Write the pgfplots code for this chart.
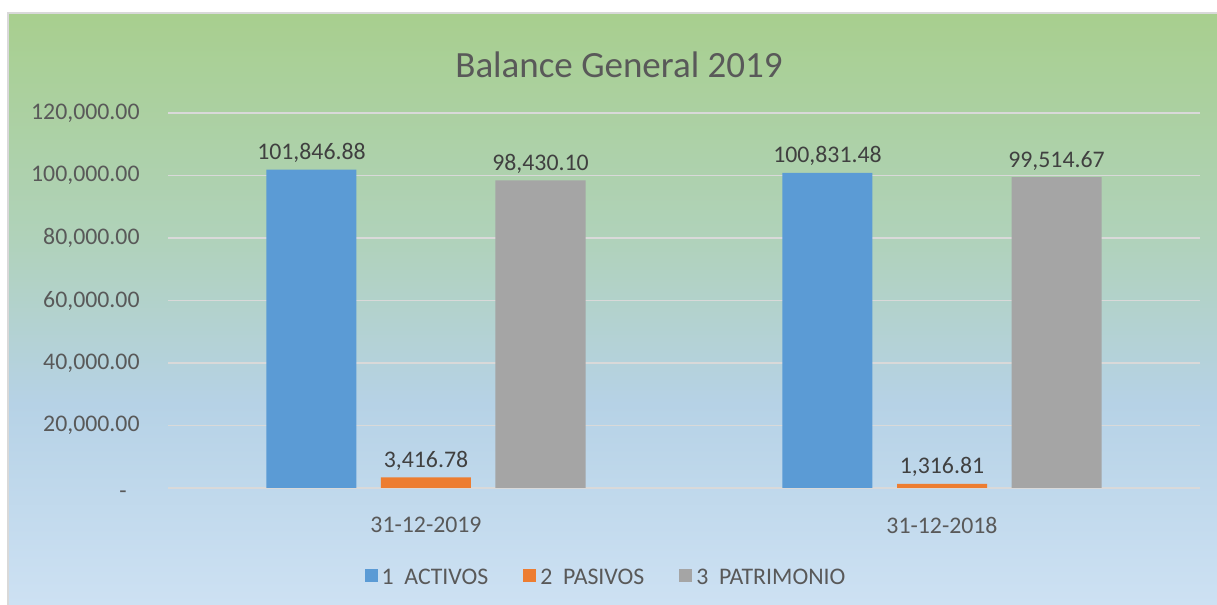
\documentclass[border=0pt]{standalone}
\usepackage{fontspec}
\setmainfont{Carlito}
\usepackage{pgfplots}
\pgfplotsset{compat=1.18}
\definecolor{cblue}{HTML}{5B9BD5}
\definecolor{corange}{HTML}{ED7D31}
\definecolor{cgray}{HTML}{A5A5A5}
\definecolor{gridc}{HTML}{D9D9D9}
\definecolor{txt}{HTML}{595959}
\definecolor{lbl}{HTML}{404040}
\definecolor{bgtop}{RGB}{168,207,142}
\definecolor{bgmid}{RGB}{176,210,186}
\definecolor{bgmid2}{RGB}{182,210,230}
\definecolor{bgbot}{RGB}{205,225,243}
\pgfdeclareverticalshading{bgshade}{100bp}{color(0bp)=(bgbot); color(25bp)=(bgbot); color(42bp)=(bgmid2); color(56bp)=(bgmid); color(75bp)=(bgtop); color(100bp)=(bgtop)}
\begin{document}
\begin{tikzpicture}
\path[use as bounding box] (0,0) rectangle (608.5pt,302.5pt);
\shade[shading=bgshade] (4pt,0pt) rectangle (608.5pt,296pt);
\draw[gridc, line width=0.8pt] (4pt,0pt) -- (4pt,296pt) -- (608.5pt,296pt);
\node[text=txt, font=\fontsize{18.5}{22}\selectfont, anchor=center] at (309.5pt,270pt) {Balance General 2019};
\begin{axis}[
  at={(84pt,58.5pt)}, anchor=south west,
  scale only axis, width=516pt, height=187.5pt,
  ybar=12.25pt, bar width=45pt,
  xmin=-0.5, xmax=1.5, ymin=0, ymax=120000,
  enlarge x limits=false,
  scaled y ticks=false,
  axis line style={draw=none},
  major tick length=0pt,
  ymajorgrids, grid style={gridc, line width=0.75pt},
  ytick={0,20000,40000,60000,80000,100000,120000},
  yticklabels={{\makebox[0pt][r]{\smash{\raisebox{-5.5pt}{-}}\kern6pt}},{20,000.00},{40,000.00},{60,000.00},{80,000.00},{100,000.00},{120,000.00}},
  xtick={0,1}, xticklabels={31-12-2019,31-12-2018},
  tick label style={text=txt, font=\fontsize{11.9}{14}\selectfont, inner sep=0pt},
  yticklabel style={anchor=east, xshift=-14pt},
  xticklabel style={anchor=north, yshift=-14.5pt},
  point meta=explicit symbolic,
  nodes near coords,
  every node near coord/.append style={text=lbl, font=\fontsize{11.9}{14}\selectfont, anchor=base, inner sep=0pt, yshift=5pt},
  legend columns=3,
  legend style={at={(0.4254,-0.24)}, anchor=center, draw=none, fill=none,
    font=\fontsize{11.9}{14}\selectfont, text=txt,
    /tikz/every even column/.append style={column sep=15.5pt},
    /tikz/every odd column/.append style={column sep=0pt}},
  legend image code/.code={\fill[#1] (0pt,-2pt) rectangle (6.5pt,4.5pt);},
]
\addplot[fill=cblue, draw=none] coordinates {(0,101846.88) [{101,846.88}] (1,100831.48) [{100,831.48}]};
\addplot[fill=corange, draw=none] coordinates {(0,3416.78) [{3,416.78}] (1,1316.81) [{1,316.81}]};
\addplot[fill=cgray, draw=none] coordinates {(0,98430.10) [{98,430.10}] (1,99514.67) [{99,514.67}]};
\legend{1\ \ ACTIVOS, 2\ \ PASIVOS, 3\ \ PATRIMONIO}
\end{axis}
\end{tikzpicture}
\end{document}
